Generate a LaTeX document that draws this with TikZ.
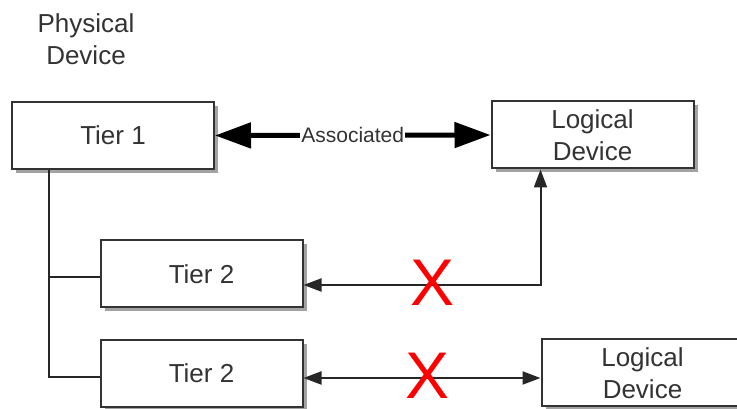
\documentclass[tikz,border=0pt]{standalone}
\usepackage{fontspec}
\setmainfont{Liberation Sans}
\usetikzlibrary{arrows.meta,shadows,calc}

\begin{document}
\begin{tikzpicture}[x=1pt, y=1pt,
    box/.style={rectangle, draw=black!80, line width=2pt, fill=white, text=black!80,
      minimum width=202pt, minimum height=67pt, inner sep=0pt, align=center,
      font=\fontsize{26}{32}\selectfont,
      drop shadow={shadow xshift=4pt, shadow yshift=-4pt, fill=black!45, opacity=0.8}},
    thinlink/.style={line width=2pt, black!85, {Triangle[length=18pt, width=13pt]}-{Triangle[length=18pt, width=13pt]}},
    thicklink/.style={line width=5pt, black, {Triangle[length=36pt, width=25pt]}-{Triangle[length=36pt, width=25pt]}},
    trunk/.style={line width=2pt, black!85},
    nolink/.style={text=red, font=\fontsize{66}{66}\selectfont, inner sep=0pt}]
  \useasboundingbox (0,0) rectangle (737,409);
  \clip (0,0) rectangle (737,409);
  % ---------------- boxes ----------------
  \node[box] (tier1) at (113,273.5) {Tier 1};
  \node[box] (logdev1) at (592.5,274) {Logical\\Device};
  \node[box] (tier2a) at (201.5,135) {Tier 2};
  \node[box] (tier2b) at (201.5,35.5) {Tier 2};
  \node[box] (logdev2) at (642.5,36) {Logical\\Device};
  \node[text=black!80, align=center, font=\fontsize{26}{32}\selectfont] (phys) at (86,370) {Physical\\Device};
  % ---------------- physical tree ----------------
  \coordinate (stem) at ($(tier1.south west)+(38,0)$);
  \coordinate (join2a) at ([yshift=-3pt]tier2a.west);
  \coordinate (join2b) at ([yshift=-4pt]tier2b.west);
  \draw[trunk] (stem) |- (join2b);
  \draw[trunk] (stem |- join2a) -- (join2a);
  % ---------------- associations ----------------
  \draw[thicklink] (tier1.east) -- (logdev1.west)
    node[midway, fill=white, inner sep=1pt, text=black!80, font=\fontsize{21}{21}\selectfont] (assoc) {Associated};
  \draw[thinlink] ([yshift=-11pt]tier2a.east) -| ($(logdev1.south west)+(50,0)$);
  \draw[thinlink] ([yshift=-4.5pt]tier2b.east) -- ([yshift=-4.5pt]tier2b.east -| logdev2.west);
  % ---------------- not allowed ----------------
  \node[nolink] (cross1) at (433,126) {X};
  \node[nolink] (cross2) at (428,33) {X};
\end{tikzpicture}
\end{document}
